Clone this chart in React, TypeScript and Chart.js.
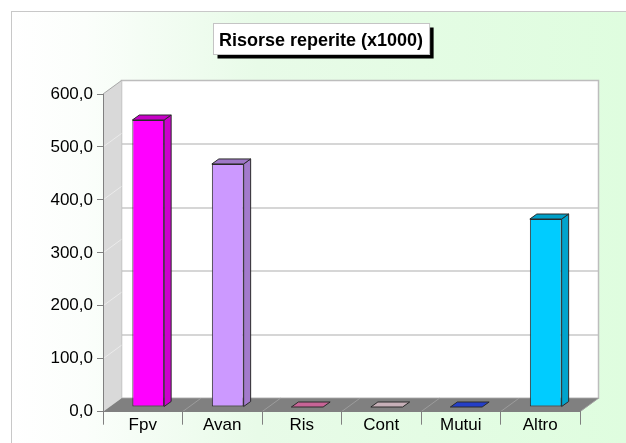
import React, { useEffect, useRef } from "react";
import { Chart, registerables } from "chart.js";

Chart.register(...registerables);

const TITLE = "Risorse reperite (x1000)";
const categories = ["Fpv", "Avan", "Ris", "Cont", "Mutui", "Altro"];
const values = [542, 459, 0, 0, 0, 355];
const barColors = ["#FF00FF", "#CC99FF", "#FF80C0", "#FFE2EC", "#2E50FF", "#00CCFF"];
const yMin = 0;
const yMax = 600;
const yStep = 100;
const wallGridStep = 120;

const FONT = "'Liberation Sans', Arial, Helvetica, sans-serif";
const W = 626;
const H = 443;

// 3D geometry (pixels)
const DEPTH_X = 18.5;
const DEPTH_Y = 13.5;
const BAR_SHIFT_X = 5.5;
const BAR_SHIFT_Y = 4.7;
const BAR_DX = 7;
const BAR_DY = 5;

function shade(hex: string, f: number) {
  const n = parseInt(hex.slice(1), 16);
  const r = Math.round(((n >> 16) & 255) * f);
  const g = Math.round(((n >> 8) & 255) * f);
  const b = Math.round((n & 255) * f);
  return `rgb(${r},${g},${b})`;
}

function poly(ctx: CanvasRenderingContext2D, pts: number[][], fill?: string, stroke?: string) {
  ctx.beginPath();
  ctx.moveTo(pts[0][0], pts[0][1]);
  for (let i = 1; i < pts.length; i++) ctx.lineTo(pts[i][0], pts[i][1]);
  ctx.closePath();
  if (fill) {
    ctx.fillStyle = fill;
    ctx.fill();
  }
  if (stroke) {
    ctx.strokeStyle = stroke;
    ctx.stroke();
  }
}

const scenePlugin = {
  id: "scene3d",
  beforeDraw(chart: any) {
    const ctx: CanvasRenderingContext2D = chart.ctx;
    const a = chart.chartArea;
    const xs = chart.scales.x;
    const ys = chart.scales.y;
    ctx.save();
    // page
    ctx.fillStyle = "#ffffff";
    ctx.fillRect(0, 0, chart.width, chart.height);
    const g = ctx.createLinearGradient(11, 0, W, 0);
    g.addColorStop(0, "#ffffff");
    g.addColorStop(0.12, "#fbfefb");
    g.addColorStop(0.4, "#e8fbe8");
    g.addColorStop(1, "#dffddf");
    ctx.fillStyle = g;
    ctx.fillRect(11.5, 11.5, chart.width, chart.height);
    ctx.strokeStyle = "#c8c8c8";
    ctx.lineWidth = 1;
    ctx.strokeRect(11.5, 11.5, chart.width + 20, chart.height + 20);

    const L = a.left;
    const R = a.right;
    const B = ys.getPixelForValue(yMin);
    const T = ys.getPixelForValue(yMax);

    // back wall
    ctx.fillStyle = "#ffffff";
    ctx.fillRect(L + DEPTH_X, T - DEPTH_Y, R - L, B - T);
    ctx.strokeStyle = "#d6d6d6";
    ctx.lineWidth = 2;
    for (let v = yMin + wallGridStep; v < yMax; v += wallGridStep) {
      const py = Math.round(ys.getPixelForValue(v) - DEPTH_Y);
      ctx.beginPath();
      ctx.moveTo(L + DEPTH_X, py);
      ctx.lineTo(R + DEPTH_X, py);
      ctx.stroke();
    }
    ctx.lineWidth = 1.5;
    ctx.strokeStyle = "#bdbdbd";
    ctx.strokeRect(L + DEPTH_X, T - DEPTH_Y, R - L, B - T);

    // side wall
    ctx.lineWidth = 1;
    poly(ctx, [[L, T], [L + DEPTH_X, T - DEPTH_Y], [L + DEPTH_X, B - DEPTH_Y], [L, B]], "#d9d9d9");
    ctx.strokeStyle = "#ebebeb";
    for (let v = yMin + yStep; v < yMax; v += yStep) {
      const py = ys.getPixelForValue(v);
      ctx.beginPath();
      ctx.moveTo(L, py);
      ctx.lineTo(L + DEPTH_X, py - DEPTH_Y);
      ctx.stroke();
    }
    ctx.strokeStyle = "#a8a8a8";
    ctx.beginPath();
    ctx.moveTo(L, T);
    ctx.lineTo(L + DEPTH_X, T - DEPTH_Y);
    ctx.stroke();

    // floor
    poly(ctx, [[L, B], [R, B], [R + DEPTH_X, B - DEPTH_Y], [L + DEPTH_X, B - DEPTH_Y]], "#808080");
    const step = xs.getPixelForValue(1) - xs.getPixelForValue(0);
    ctx.strokeStyle = "#9c9c9c";
    for (let i = 1; i < categories.length; i++) {
      const bx = xs.getPixelForValue(i) - step / 2;
      ctx.beginPath();
      ctx.moveTo(bx, B);
      ctx.lineTo(bx + DEPTH_X, B - DEPTH_Y);
      ctx.stroke();
    }
    ctx.strokeStyle = "#a0a0a0";
    ctx.beginPath();
    ctx.moveTo(R, B);
    ctx.lineTo(R + DEPTH_X, B - DEPTH_Y);
    ctx.stroke();

    // title box with shadow
    ctx.font = `bold 18px ${FONT}`;
    const tw = ctx.measureText(TITLE).width;
    const cx = 321;
    const bw = tw + 12;
    const bx0 = Math.round(cx - bw / 2) + 0.5;
    const by0 = 23.5;
    const bh = 31;
    ctx.fillStyle = "#000000";
    ctx.fillRect(bx0 + 4, by0 + 4, bw, bh);
    ctx.fillStyle = "#ffffff";
    ctx.fillRect(bx0, by0, bw, bh);
    ctx.strokeStyle = "#c4c4c4";
    ctx.lineWidth = 1;
    ctx.strokeRect(bx0, by0, bw, bh);
    ctx.fillStyle = "#000000";
    ctx.textAlign = "center";
    ctx.textBaseline = "alphabetic";
    ctx.fillText(TITLE, cx, 46);
    ctx.restore();
  },
  beforeDatasetsDraw(chart: any) {
    chart.ctx.save();
    chart.ctx.translate(BAR_SHIFT_X, -BAR_SHIFT_Y);
  },
  afterDatasetsDraw(chart: any) {
    const ctx: CanvasRenderingContext2D = chart.ctx;
    const meta = chart.getDatasetMeta(0);
    ctx.lineWidth = 1;
    ctx.lineJoin = "round";
    meta.data.forEach((el: any, i: number) => {
      const p = el.getProps(["x", "y", "base", "width"], true);
      const l = p.x - p.width / 2;
      const r = p.x + p.width / 2;
      const top = Math.min(p.y, p.base);
      const base = Math.max(p.y, p.base);
      const c = barColors[i];
      if (base - top > 0.5) {
        poly(ctx, [[r, top], [r + BAR_DX, top - BAR_DY], [r + BAR_DX, base - BAR_DY], [r, base]], shade(c, 0.8), "#2a2a2a");
      }
      poly(ctx, [[l, top], [l + BAR_DX, top - BAR_DY], [r + BAR_DX, top - BAR_DY], [r, top]], shade(c, 0.78), "#2a2a2a");
    });
    ctx.restore();
  },
};

export default function App() {
  const ref = useRef<HTMLCanvasElement | null>(null);
  useEffect(() => {
    if (!ref.current) return;
    const chart = new Chart(ref.current, {
      type: "bar",
      data: {
        labels: categories,
        datasets: [
          {
            data: values,
            backgroundColor: barColors,
            borderColor: "#2a2a2a",
            borderWidth: 1,
            borderSkipped: false,
            barPercentage: 0.4,
            categoryPercentage: 1,
            clip: false as any,
          },
        ],
      },
      options: {
        responsive: false,
        animation: false,
        devicePixelRatio: 1,
        layout: { padding: { left: 0, top: 94, right: 46, bottom: 0 } },
        plugins: {
          legend: { display: false },
          tooltip: { enabled: false },
          title: { display: false },
        },
        scales: {
          x: {
            type: "category",
            offset: true,
            grid: {
              offset: true,
              drawOnChartArea: false,
              drawTicks: true,
              tickLength: 13,
              color: "#808080",
            },
            border: { display: true, color: "#808080", width: 1 },
            ticks: {
              color: "#000000",
              font: { family: FONT, size: 17 },
              padding: -9.5,
              autoSkip: false,
              maxRotation: 0,
            },
            afterFit: (s: any) => {
              s.height = 31.3;
            },
          },
          y: {
            min: yMin,
            max: yMax,
            ticks: {
              stepSize: yStep,
              color: "#000000",
              font: { family: FONT, size: 17 },
              padding: 4,
              callback: (v: any) => Number(v).toFixed(1).replace(".", ","),
            },
            grid: {
              drawOnChartArea: false,
              drawTicks: true,
              tickLength: 6,
              color: "#808080",
            },
            border: { display: true, color: "#808080", width: 1 },
            afterFit: (s: any) => {
              s.width = 103;
            },
          },
        },
      },
      plugins: [scenePlugin as any],
    });
    return () => chart.destroy();
  }, []);
  return (
    <div style={{ position: "absolute", left: 0, top: 0, width: W, height: H }}>
      <canvas ref={ref} width={W} height={H} style={{ display: "block", width: W, height: H }} />
    </div>
  );
}
